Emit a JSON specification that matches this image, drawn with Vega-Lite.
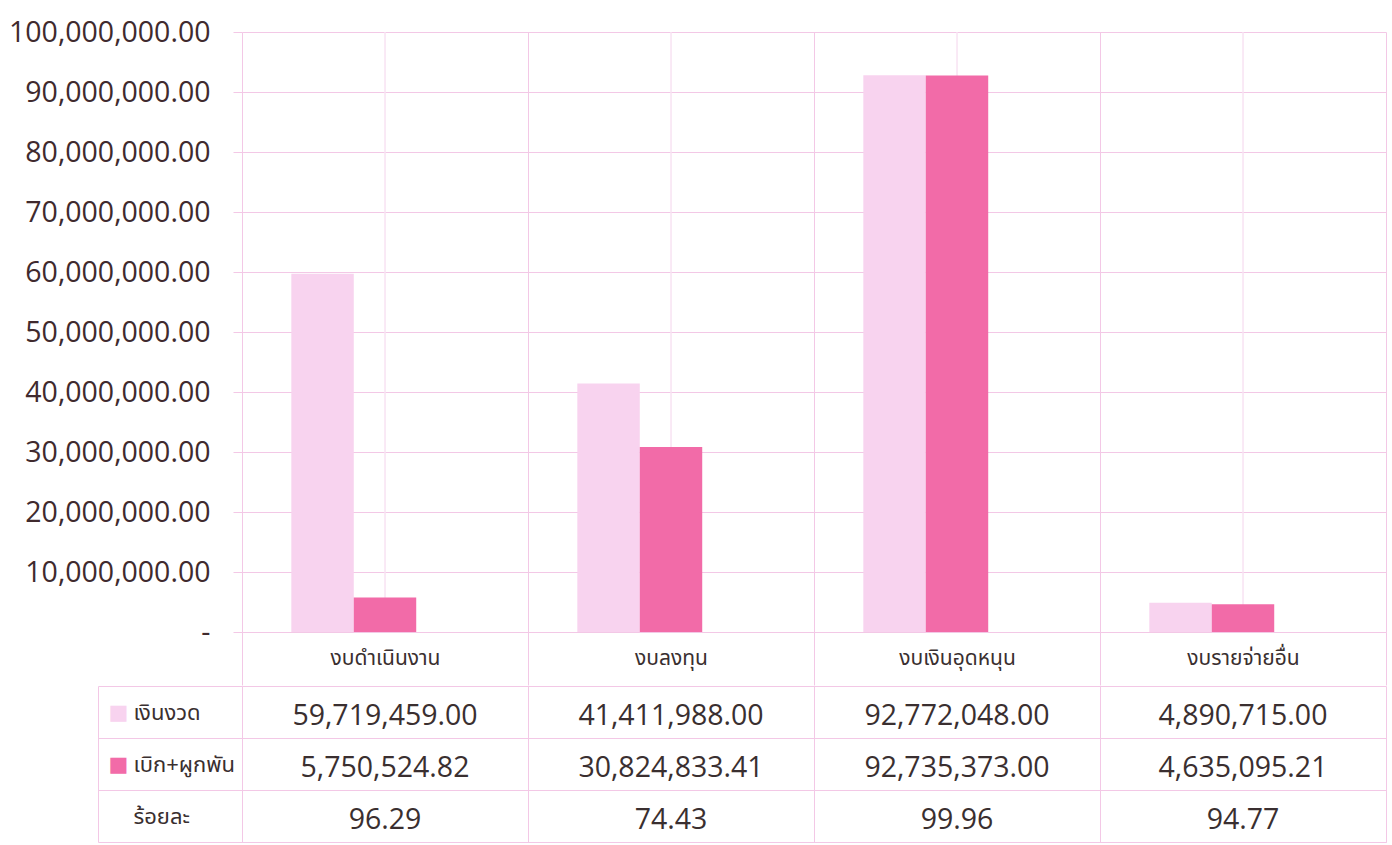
{
  "$schema": "https://vega.github.io/schema/vega-lite/v6.json",
  "padding": {"left": 8, "top": 18, "right": 8, "bottom": 2},
  "background": "white",
  "spacing": -12,
  "config": {
    "view": {"stroke": null},
    "axis": {"gridColor": "#f3c8e6", "domainColor": "#f3c8e6", "tickColor": "#f3c8e6", "gridWidth": 1, "domainWidth": 1, "tickWidth": 1, "labelLimit": 0}
  },
  "data": {
    "values": [
      {"category": "งบดำเนินงาน", "series": "เงินงวด", "value": 59719459.00},
      {"category": "งบดำเนินงาน", "series": "เบิก+ผูกพัน", "value": 5750524.82},
      {"category": "งบดำเนินงาน", "series": "ร้อยละ", "value": 96.29},
      {"category": "งบลงทุน", "series": "เงินงวด", "value": 41411988.00},
      {"category": "งบลงทุน", "series": "เบิก+ผูกพัน", "value": 30824833.41},
      {"category": "งบลงทุน", "series": "ร้อยละ", "value": 74.43},
      {"category": "งบเงินอุดหนุน", "series": "เงินงวด", "value": 92772048.00},
      {"category": "งบเงินอุดหนุน", "series": "เบิก+ผูกพัน", "value": 92735373.00},
      {"category": "งบเงินอุดหนุน", "series": "ร้อยละ", "value": 99.96},
      {"category": "งบรายจ่ายอื่น", "series": "เงินงวด", "value": 4890715.00},
      {"category": "งบรายจ่ายอื่น", "series": "เบิก+ผูกพัน", "value": 4635095.21},
      {"category": "งบรายจ่ายอื่น", "series": "ร้อยละ", "value": 94.77}
    ]
  },
  "vconcat": [
    {
      "width": 1144,
      "height": 600,
      "transform": [{"filter": "datum.series !== 'ร้อยละ'"}],
      "encoding": {
        "x": {
          "field": "category", "type": "nominal",
          "sort": ["งบดำเนินงาน", "งบลงทุน", "งบเงินอุดหนุน", "งบรายจ่ายอื่น"],
          "scale": {"paddingInner": 0, "paddingOuter": 0},
          "axis": {
            "title": null, "tickBand": "extent", "grid": true, "ticks": true, "tickSize": 53,
            "labelPadding": -27, "labelBaseline": "middle", "labelAngle": 0,
            "labelFont": "Noto Sans Thai", "labelFontSize": 21, "labelColor": "#3a2f30", "domain": true
          }
        }
      },
      "layer": [
        {
          "mark": {"type": "rule", "color": "#f8e2f2", "strokeWidth": 1},
          "encoding": {}
        },
        {
          "mark": {"type": "bar"},
          "encoding": {
            "xOffset": {
              "field": "series", "type": "nominal",
              "scale": {"domain": ["เงินงวด", "เบิก+ผูกพัน", "_"], "paddingInner": 0, "paddingOuter": 0.79}
            },
            "y": {
              "field": "value", "type": "quantitative",
              "scale": {"domain": [0, 100000000], "nice": false},
              "axis": {
                "title": null,
                "values": [0, 10000000, 20000000, 30000000, 40000000, 50000000, 60000000, 70000000, 80000000, 90000000, 100000000],
                "grid": true, "ticks": true, "tickSize": 9, "domain": false,
                "labelPadding": 23, "labelFont": "Open Sans", "labelFontSize": 28.5, "labelColor": "#402a2e",
                "labelExpr": "datum.value === 0 ? '-\u00a0\u00a0\u00a0' : format(datum.value, ',.2f')"
              }
            },
            "color": {
              "field": "series", "type": "nominal",
              "scale": {"domain": ["เงินงวด", "เบิก+ผูกพัน"], "range": ["#f8d3ef", "#f26ba8"]},
              "legend": null
            }
          }
        }
      ]
    },
    {
      "width": 1144,
      "height": 156,
      "layer": [
        {
          "mark": {"type": "text", "font": "Open Sans", "fontSize": 28.5, "color": "#3a2f30", "baseline": "middle", "dy": 4},
          "encoding": {
            "x": {
              "field": "category", "type": "nominal",
              "sort": ["งบดำเนินงาน", "งบลงทุน", "งบเงินอุดหนุน", "งบรายจ่ายอื่น"],
              "scale": {"paddingInner": 0, "paddingOuter": 0},
              "axis": {"title": null, "labels": false, "ticks": false, "grid": true, "tickBand": "extent", "domain": true}
            },
            "y": {
              "field": "series", "type": "nominal",
              "sort": ["เงินงวด", "เบิก+ผูกพัน", "ร้อยละ"],
              "scale": {"paddingInner": 0, "paddingOuter": 0},
              "axis": {
                "title": null, "orient": "left", "tickBand": "extent", "grid": true, "ticks": true, "tickSize": 144,
                "domain": true, "labelAlign": "left", "labelBaseline": "middle", "labelPadding": -35,
                "labelFont": "Noto Sans Thai", "labelFontSize": 22, "labelColor": "#3a2f30",
                "labelExpr": "datum.value === 'ร้อยละ' ? '\u00a0' + datum.value : datum.value"
              }
            },
            "text": {"field": "value", "type": "quantitative", "format": ",.2f"}
          }
        },
        {
          "mark": {"type": "text", "opacity": 0, "text": ""},
          "encoding": {
            "y": {
              "field": "series", "type": "nominal",
              "sort": ["เงินงวด", "เบิก+ผูกพัน", "ร้อยละ"],
              "scale": {"paddingInner": 0, "paddingOuter": 0},
              "axis": {
                "title": null, "orient": "left", "offset": 144, "ticks": false, "grid": false, "domain": true,
                "labelAlign": "left", "labelBaseline": "middle", "labelPadding": -10,
                "labelExpr": "datum.value === 'ร้อยละ' ? '' : '■'",
                "labelFont": "DejaVu Sans", "labelFontSize": 21,
                "labelColor": {"condition": {"test": "datum.value === 'เงินงวด'", "value": "#f8d3ef"}, "value": "#f26ba8"}
              }
            }
          }
        }
      ],
      "resolve": {"scale": {"y": "independent"}}
    }
  ]
}
